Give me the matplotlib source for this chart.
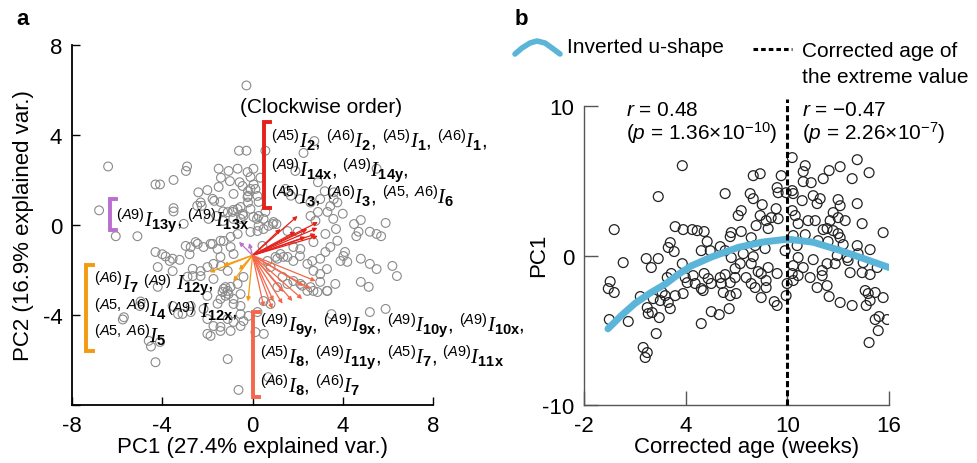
import numpy as np
import matplotlib
matplotlib.use('Agg')
import matplotlib.pyplot as plt
from matplotlib.lines import Line2D

plt.rcParams['font.family'] = 'Liberation Sans'
plt.rcParams['mathtext.fontset'] = 'custom'
plt.rcParams['mathtext.rm'] = 'Liberation Sans'
plt.rcParams['mathtext.it'] = 'Liberation Serif:italic'
plt.rcParams['mathtext.bf'] = 'Liberation Sans:bold'
plt.rcParams['mathtext.sf'] = 'Liberation Sans:italic'
plt.rcParams['axes.unicode_minus'] = False

# ---- panel a: PCA scores (PC1, PC2) ----
pca_pts = [
    (-0.27, 6.2), (-6.4, 2.6), (-6.8, 0.65), (-4.3, 1.8), (-4.1, 1.8), (-3.5, 2.0), (-2.9, 2.6), (-2.95, 2.4),
    (-3.5, 0.75), (-3.5, 0.6), (-3.05, 0.05), (-2.4, 1.45), (-2.0, 1.55), (-1.5, 2.5), (-1.06, 2.4), (-1.4, 2.1),
    (-1.0, 1.95), (-0.57, 1.9), (-0.6, 3.3), (-0.27, 3.3), (-0.2, 1.5), (-0.2, 1.3), (0.05, 1.8), (0.35, 2.1),
    (-2.3, 1.0), (-2.25, 0.85), (-1.7, 1.07), (-1.3, 0.6), (-1.1, 0.57), (-0.85, 0.67), (-0.53, 0.8), (-0.2, 1.0),
    (-2.45, 0.85), (-1.95, 0.27), (-1.6, 0.4), (-1.3, 0.18), (-0.85, 0.27), (-0.53, 0.27), (-0.44, 0.49), (0.2, 0.27),
    (0.27, -0.04), (0.57, 0.58), (0.9, 0.04), (1.06, 0.04), (2.26, 3.2), (2.74, 3.73), (1.9, 2.4), (2.9, 1.9),
    (3.6, 1.15), (3.76, 1.0), (4.0, 0.5), (4.8, 0.22), (4.5, 0.04), (5.5, 2.5), (5.9, 0.09), (3.2, 1.5),
    (3.6, 1.45), (1.46, 1.6), (1.55, 1.47), (1.7, 1.3), (2.1, 1.15), (2.57, 1.0), (3.0, 1.15), (2.57, 0.4),
    (2.9, 0.58), (4.6, -0.5), (5.2, -0.3), (5.7, -0.5), (3.7, -0.18), (-6.06, -0.5), (-5.1, -0.5),
    (0.57, 3.3), (-0.66, 2.5), (-0.22, 2.35), (0.04, 2.5), (-0.09, 2.13), (-1.5, 1.69), (-0.84, 1.38),
    (-0.44, 1.73), (-0.09, 1.6), (0.13, 1.6), (0.22, 1.29), (-0.22, 1.24), (0.27, 1.02), (-0.09, 0.71),
    (-0.66, 0.71), (-1.77, 1.16), (-1.42, 1.02), (-0.88, 0.58), (-0.4, 0.4), (0.04, 0.36), (0.27, 0.4),
    (0.49, 0.27), (3.32, 0.58), (3.45, 0.84), (3.58, 0.27), (2.79, 0.18), (0.93, 0.13), (0.71, -0.04),
    (0.49, -0.18), (0.22, -0.27), (-0.09, -0.31),
    (-4.3, -1.2), (-4.0, -1.3), (-3.85, -1.4), (-3.67, -1.6), (-3.54, -1.5), (-3.23, -1.55), (-2.79, -1.3),
    (-2.74, -0.98), (-2.43, -0.84), (-4.2, -1.87), (-3.54, -2.05), (-4.2, -2.75), (-2.88, -2.3), (-2.65, -1.95),
    (-2.3, -2.05), (-5.75, -4.2), (-4.5, -5.4), (-4.1, -5.2), (-4.3, -6.1), (-5.0, -3.6), (-3.54, -3.6),
    (-2.74, -3.6), (-3.1, -3.95),
    (-2.96, -0.93), (-2.52, -0.76), (-2.17, -0.98), (-1.77, -0.84), (-1.42, -0.7), (-0.97, -0.53), (-0.66, -0.4),
    (-1.73, -1.73), (-1.4, -1.82), (-1.73, -2.4), (-2.3, -2.27), (-2.65, -2.27), (-1.28, -2.84), (-1.1, -2.93),
    (-0.97, -2.75), (-1.2, -3.15), (-1.42, -3.29), (-0.84, -3.29), (-0.53, -3.6), (-2.0, -3.15), (-1.55, -3.5),
    (-2.17, -3.73), (-2.74, -3.87), (-3.3, -3.96), (-2.0, -4.18), (-1.42, -4.53), (-1.86, -4.93), (-0.84, -4.31),
    (-0.53, -4.49), (-0.18, -4.04), (0.22, -3.87), (-1.1, -5.96), (-0.62, -7.33), (0.5, -4.84), (0.7, -6.76),
    (1.1, -1.5), (1.37, -1.42), (1.81, -1.6), (2.1, -1.38), (2.65, -1.6), (3.0, -1.5), (3.3, -1.96), (3.9, -1.6),
    (4.03, -1.38), (4.2, -1.64), (4.8, -1.5), (5.2, -1.73), (5.5, -1.96), (4.8, -2.53), (5.15, -2.75),
    (6.4, -2.27), (6.2, -1.82), (5.9, -3.73), (5.2, -3.87), (3.5, -3.96), (3.0, -2.53), (2.7, -2.93),
    (2.43, -2.93), (2.2, -2.7), (3.3, -2.93), (1.55, -0.27), (2.0, -0.3), (2.7, -0.76), (3.23, -0.4),
    (4.7, -0.3), (5.5, -0.4), (3.76, -0.7), (4.1, -1.2), (-4.96, -3.4), (-4.6, -5.15), (-5.7, -4.1), (0.13, -4.76),
    (-1.86, -0.84), (-1.55, -1.07), (-1.28, -0.71), (-0.97, -0.98), (-0.84, -1.29), (-1.42, -1.42), (-2.0, -1.87),
    (-1.1, -2.04), (-0.66, -2.62), (-0.4, -2.31), (-1.2, -2.76), (-1.33, -2.98), (-1.06, -3.07), (-0.53, -3.07),
    (-0.84, -3.51), (-0.53, -3.96), (-1.1, -4.18), (-1.73, -4.49), (-1.42, -4.71), (-0.97, -4.71), (-2.0, -4.84),
    (-0.4, -4.27), (0.44, -0.93), (0.66, -1.6), (0.8, -1.87), (1.02, -1.42), (1.24, -1.29), (1.55, -1.42),
    (1.81, -0.98), (2.12, -1.07), (2.43, -1.73), (2.7, -2.04), (3.0, -2.18), (3.23, -1.2), (3.45, -0.98),
    (3.67, -2.62), (3.32, -2.93), (2.88, -2.98), (2.57, -2.76), (2.12, -2.62), (1.81, -2.49), (1.55, -2.62),
    (1.33, -2.31), (1.1, -2.76), (0.49, -3.38), (0.8, -3.51),
]
pc1_a = [p[0] for p in pca_pts]
pc2_a = [p[1] for p in pca_pts]

# loading vectors (tip positions), all starting at the same origin
load_origin = (0.0, -1.35)
load_red = [(2.0, 0.4), (2.9, 0.13), (2.88, -0.13), (2.8, -0.4), (2.43, -0.18), (2.35, -0.53),
            (2.9, -0.49), (1.24, -0.18), (1.9, -0.3)]
load_purple = [(-0.6, -0.75), (-0.15, -0.8)]
load_orange = [(-1.9, -2.1), (-1.3, -1.8), (-0.6, -2.0), (-0.85, -2.5), (-0.2, -3.4)]
load_coral = [(0.5, -3.64), (0.88, -3.73), (1.33, -3.5), (1.77, -3.38), (2.2, -3.29), (2.57, -2.84),
              (2.8, -2.49), (2.26, -2.71), (1.37, -2.98), (0.93, -3.38)]

# ---- panel b: PC1 vs corrected age ----
age_pts = [
    (3.79, 6.02), (2.37, 3.95), (-0.23, 1.74), (3.37, 1.94), (3.84, 1.74), (3.08, 0.87), (2.96, 0.54), (3.31, 0.27),
    (0.30, -0.47), (1.66, -0.20), (2.37, -0.20), (1.96, -0.80), (3.79, -0.54), (-0.47, -1.74), (-0.58, -2.21),
    (-0.23, -2.47), (1.31, -2.74), (2.90, -1.47), (3.14, -1.20), (3.96, -1.47), (2.60, -2.47), (2.78, -2.68),
    (3.37, -2.68), (3.84, -2.54), (2.07, -2.88), (2.49, -3.01), (2.96, -3.14), (1.72, -3.48), (1.78, -3.88),
    (2.01, -3.81), (3.08, -3.55), (2.43, -4.15), (-0.52, -4.28), (0.60, -4.41), (2.25, -5.22), (1.48, -6.15),
    (1.72, -6.49), (1.60, -6.82), (4.08, -1.81), (4.67, 1.67),
    (7.98, 5.35), (8.39, 5.48), (9.63, 5.35), (6.32, 4.15), (7.80, 4.15), (7.98, 3.81), (9.39, 4.55), (9.45, 4.21),
    (9.92, 4.21), (7.27, 3.01), (7.09, 2.68), (8.51, 3.41), (8.39, 2.68), (8.74, 2.34), (9.04, 2.54), (9.33, 3.14),
    (9.45, 2.47), (4.38, 1.74), (5.08, 1.61), (6.68, 1.54), (7.27, 1.61), (8.86, 1.81), (8.15, 2.01), (6.62, 1.27),
    (5.26, 0.94), (6.03, 0.60), (4.91, 0.33), (5.44, 0.33), (6.32, 0.33), (8.68, 0.47), (8.09, 0.67), (7.86, 1.20),
    (9.86, 0.33), (6.68, -0.13), (7.39, 0.13), (7.98, -0.07), (7.21, -0.54), (7.86, -0.54), (8.86, -0.80),
    (8.27, -1.07), (8.45, -1.20), (9.39, -1.20), (4.43, -1.34), (5.08, -1.20), (5.32, -1.54), (6.03, -1.47),
    (6.32, -1.27), (6.91, -0.87), (7.56, -1.47), (6.91, -1.47), (4.55, -1.87), (5.02, -2.34), (5.50, -1.87),
    (6.09, -1.87), (6.62, -1.81), (7.86, -1.87), (8.09, -2.14), (8.74, -1.67), (9.98, -1.87), (6.21, -2.47),
    (6.62, -2.68), (6.97, -2.54), (8.74, -2.14), (8.45, -2.81), (9.22, -3.08), (9.39, -3.34), (9.92, -2.68),
    (4.91, -2.21), (5.50, -3.75), (5.97, -3.95), (6.56, -3.55), (4.91, -4.55),
    (10.28, 6.56), (11.05, 6.02), (10.93, 5.62), (10.93, 4.95), (11.40, 4.88), (12.46, 5.69), (13.11, 5.95),
    (14.12, 6.42), (14.82, 5.55), (13.82, 5.15), (12.11, 5.15), (10.28, 4.35), (10.34, 4.15), (10.87, 3.68),
    (11.52, 4.01), (11.93, 3.81), (11.75, 3.48), (12.99, 3.75), (13.11, 3.34), (14.12, 3.48), (10.28, 3.01),
    (10.46, 2.68), (10.63, 2.14), (11.22, 2.34), (11.64, 2.34), (12.52, 2.34), (12.70, 2.88), (12.99, 2.54),
    (13.41, 2.34), (14.41, 2.14), (15.65, 1.54), (12.11, 1.74), (12.34, 1.81), (12.70, 1.67), (12.99, 1.47),
    (13.11, 1.20), (11.05, 1.40), (10.34, 1.34), (10.57, 0.67), (11.81, 1.00), (12.40, 0.94), (13.29, 0.74),
    (14.12, 0.67), (14.88, 0.40), (14.17, 0.13), (13.53, -0.13), (12.94, 0.00), (11.52, -0.27), (10.63, -0.13),
    (10.34, -0.67), (10.93, -0.80), (12.34, -0.54), (12.82, -0.54), (13.58, -0.33), (14.47, -0.47), (15.30, -0.80),
    (10.28, -1.20), (10.63, -1.34), (11.34, -1.47), (12.05, -1.34), (12.05, -1.00), (13.70, -1.14), (14.41, -1.14),
    (14.88, -1.27), (10.34, -1.67), (11.75, -2.14), (12.34, -2.01), (12.46, -2.74), (13.11, -3.14), (13.82, -3.34),
    (14.59, -2.34), (14.77, -2.54), (15.18, -2.47), (15.65, -2.81), (14.88, -3.01), (14.65, -3.34), (15.18, -4.28),
    (15.41, -4.08), (15.89, -4.28), (15.36, -5.02), (14.82, -5.82),
]
age_b = [p[0] for p in age_pts]
pc1_b = [p[1] for p in age_pts]

fit_age = [-0.6, 0.2, 1.0, 1.9, 2.8, 3.5, 4.3, 5.5, 7.1, 8.5, 10.0, 11.5, 13.1, 14.5, 16.0]
fit_pc1 = [-4.9, -4.0, -3.2, -2.5, -1.9, -1.3, -0.7, -0.1, 0.55, 0.9, 1.1, 0.9, 0.35, -0.2, -0.8]
extreme_age = 10.0

RED = '#e3231b'
CORAL = '#f4674a'
ORANGE = '#f39a0f'
PURPLE = '#b96fcf'
BLUE = '#5bb5d8'


def term(src, idx):
    sup = ',\\ '.join(r'\mathsf{A}' + s.strip()[1:] for s in src.split(','))
    return r'$^{(%s)}\mathit{I}_{\mathbf{%s}}$' % (sup, idx)


fig = plt.figure(figsize=(9.77, 4.64), dpi=100)

# ================= panel a =================
ax1 = fig.add_axes([0.0737, 0.125, 0.3695, 0.776])
ax1.scatter(pc1_a, pc2_a, s=40, facecolors='none', edgecolors='#8a8a8a', linewidths=0.8, zorder=2)

for tips, col in [(load_red, RED), (load_purple, PURPLE), (load_orange, ORANGE), (load_coral, CORAL)]:
    for tx, ty in tips:
        ax1.annotate('', xy=(tx, ty), xytext=load_origin,
                     arrowprops=dict(arrowstyle='-|>', color=col, lw=0.9, mutation_scale=6,
                                     shrinkA=0, shrinkB=0), zorder=3)


def bracket(ax, x, y0, y1, col, stub=0.3):
    ax.plot([x + stub, x, x, x + stub], [y1, y1, y0, y0], color=col, lw=2.8,
            solid_joinstyle='miter', clip_on=False, zorder=4)


fs = 15
bracket(ax1, 0.49, 0.76, 4.58, RED)
ax1.text(0.8, 3.47, ', '.join([term('A5', '2'), term('A6', '2'), term('A5', '1'), term('A6', '1')]) + ',',
         fontsize=fs, va='baseline', zorder=5)
ax1.text(0.8, 2.18, term('A9', '14x') + ', ' + term('A9', '14y') + ',', fontsize=fs, va='baseline', zorder=5)
ax1.text(0.8, 1.02, ', '.join([term('A5', '3'), term('A6', '3'), term('A5, A6', '6')]),
         fontsize=fs, va='baseline', zorder=5)
ax1.text(3.05, 5.02, '(Clockwise order)', fontsize=15, ha='center', va='baseline')

bracket(ax1, -6.33, -0.22, 1.16, PURPLE)
ax1.text(-6.06, -0.04, term('A9', '13y') + ', ' + term('A9', '13x'), fontsize=fs, va='baseline', zorder=5)

bracket(ax1, -7.39, -5.6, -1.78, ORANGE)
ax1.text(-7.03, -2.84, term('A6', '7'), fontsize=fs, va='baseline', zorder=5)
ax1.text(-4.87, -2.84, r'$^{(\mathsf{A}9)}$', fontsize=fs, va='baseline', zorder=5)
ax1.text(-3.4, -2.84, r'$\mathit{I}_{\mathbf{12y}}$,', fontsize=fs, va='baseline', zorder=5)
ax1.text(-7.03, -4.04, term('A5, A6', '4'), fontsize=fs, va='baseline', zorder=5)
ax1.text(-3.8, -4.04, r'$^{(\mathsf{A}9)}$', fontsize=fs, va='baseline', zorder=5)
ax1.text(-2.34, -4.04, r'$\mathit{I}_{\mathbf{12x}}$,', fontsize=fs, va='baseline', zorder=5)
ax1.text(-7.03, -5.2, term('A5, A6', '5'), fontsize=fs, va='baseline', zorder=5)

bracket(ax1, 0.0, -7.64, -3.87, CORAL)
ax1.text(0.35, -4.71, ', '.join([term('A9', '9y'), term('A9', '9x'), term('A9', '10y'), term('A9', '10x')]) + ',',
         fontsize=fs, va='baseline', zorder=5)
ax1.text(0.35, -6.09, ', '.join([term('A5', '8'), term('A9', '11y'), term('A5', '7'), term('A9', '11x')]),
         fontsize=fs, va='baseline', zorder=5)
ax1.text(0.35, -7.42, term('A6', '8') + ', ' + term('A6', '7'), fontsize=fs, va='baseline', zorder=5)

ax1.set_xlim(-8, 8)
ax1.set_ylim(-8, 8)
ax1.set_xticks([-8, -4, 0, 4, 8])
ax1.set_yticks([-8, -4, 0, 4, 8])
ax1.set_yticklabels(['', '-4', '0', '4', '8'])
for s in ['top', 'right']:
    ax1.spines[s].set_visible(False)
for s in ['left', 'bottom']:
    ax1.spines[s].set_linewidth(1.3)
ax1.tick_params(direction='in', length=6, width=1, labelsize=16, pad=7)
ax1.set_xlabel('PC1 (27.4% explained var.)', fontsize=16)
ax1.set_ylabel('PC2 (16.9% explained var.)', fontsize=16)
ax1.xaxis.set_label_coords(0.5, -0.085)
ax1.yaxis.set_label_coords(-0.104, 0.5)

# ================= panel b =================
ax2 = fig.add_axes([0.598, 0.125, 0.312, 0.644])
ax2.scatter(age_b, pc1_b, s=50, facecolors='none', edgecolors='#222222', linewidths=0.9, zorder=2)
ax2.plot(fit_age, fit_pc1, color=BLUE, lw=5, solid_capstyle='round', zorder=3)
ax2.plot([extreme_age, extreme_age], [-10, 10.5], color='black', lw=2.2, dashes=(2, 1),
         clip_on=False, zorder=4)

ax2.text(0.48, 9.4, r'$\mathsf{r}$ = 0.48', fontsize=15, va='baseline')
ax2.text(0.48, 7.85, r'($\mathsf{p}$ = 1.36×10$^{−10}$)', fontsize=15, va='baseline')
ax2.text(10.87, 9.4, r'$\mathsf{r}$ = −0.47', fontsize=15, va='baseline')
ax2.text(10.87, 7.85, r'($\mathsf{p}$ = 2.26×10$^{−7}$)', fontsize=15, va='baseline')

ax2.set_xlim(-2, 16)
ax2.set_ylim(-10, 10)
ax2.set_xticks([-2, 4, 10, 16])
ax2.set_yticks([-10, 0, 10])
for s in ['top', 'right']:
    ax2.spines[s].set_visible(False)
for s in ['left', 'bottom']:
    ax2.spines[s].set_color('#555555')
    ax2.spines[s].set_linewidth(1.0)
ax2.tick_params(direction='in', length=10, width=1, color='#555555', labelsize=16, pad=7)
ax2.set_xlabel('Corrected age (weeks)', fontsize=16)
ax2.set_ylabel('PC1', fontsize=16)
ax2.xaxis.set_label_coords(0.534, -0.105)
ax2.yaxis.set_label_coords(-0.115, 0.505)

# legend for panel b, drawn by hand
arc_x = np.array([515, 522, 530, 537, 545, 552, 560]) / 977
arc_y = 1 - np.array([55, 49, 44, 42, 44, 49, 55]) / 464
fig.add_artist(Line2D(arc_x, arc_y, color=BLUE, lw=4, solid_capstyle='round', transform=fig.transFigure))
fig.text(0.580, 0.886, 'Inverted u-shape', fontsize=15, va='baseline')
fig.add_artist(Line2D([753 / 977, 792 / 977], [1 - 50 / 464] * 2, color='black', lw=2.2, dashes=(1.5, 1),
                      transform=fig.transFigure))
fig.text(0.821, 0.877, 'Corrected age of', fontsize=15, va='baseline')
fig.text(0.821, 0.821, 'the extreme value', fontsize=15, va='baseline')

fig.text(0.017, 0.946, 'a', fontsize=16, fontweight='bold', va='baseline')
fig.text(0.527, 0.946, 'b', fontsize=16, fontweight='bold', va='baseline')

fig.savefig('out.png', dpi=100)
